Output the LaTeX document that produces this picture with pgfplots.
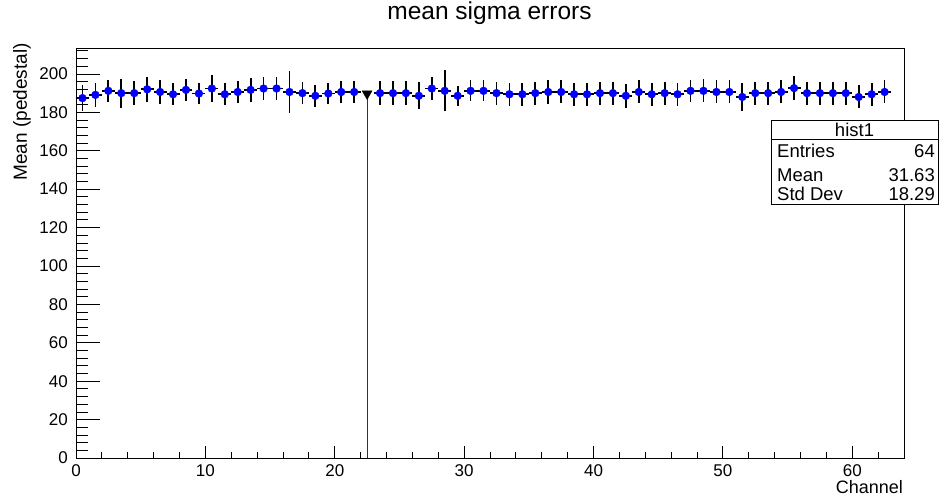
\documentclass[border=0pt]{standalone}
\usepackage{fontspec}
\setmainfont{Liberation Sans}
\usepackage{pgfplots}
\usepackage{pgfplotstable}
\pgfplotsset{compat=1.18}
\pgfplotstableread{
x y ex ey
0.5 187.4 0.5 6.9
1.5 189.1 0.5 6.2
2.5 191.2 0.5 5.8
3.5 190.0 0.5 7.6
4.5 190.0 0.5 6.2
5.5 192.0 0.5 6.6
6.5 190.6 0.5 6.1
7.5 189.4 0.5 5.7
8.5 191.7 0.5 5.7
9.5 189.8 0.5 5.7
10.5 192.4 0.5 6.9
11.5 189.4 0.5 5.7
12.5 190.6 0.5 5.7
13.5 191.7 0.5 6.1
14.5 192.4 0.5 5.9
15.5 192.4 0.5 5.9
16.5 190.6 0.5 10.7
17.5 190.0 0.5 5.7
18.5 188.6 0.5 5.7
19.5 189.8 0.5 5.7
20.5 190.6 0.5 5.7
21.5 190.6 0.5 5.7
23.5 190.0 0.5 6.2
24.5 190.0 0.5 6.2
25.5 190.0 0.5 6.2
26.5 188.6 0.5 7.1
27.5 192.4 0.5 6.1
28.5 191.2 0.5 10.6
29.5 188.6 0.5 5.2
30.5 191.2 0.5 5.4
31.5 191.2 0.5 5.5
32.5 190.0 0.5 6.0
33.5 189.4 0.5 6.0
34.5 189.4 0.5 6.0
35.5 190.0 0.5 6.0
36.5 190.6 0.5 6.2
37.5 190.6 0.5 6.0
38.5 189.4 0.5 6.0
39.5 189.4 0.5 6.0
40.5 190.0 0.5 6.0
41.5 190.0 0.5 6.0
42.5 188.6 0.5 6.3
43.5 190.6 0.5 6.0
44.5 189.4 0.5 6.0
45.5 190.0 0.5 6.0
46.5 189.4 0.5 6.0
47.5 191.2 0.5 5.6
48.5 191.2 0.5 6.0
49.5 190.6 0.5 6.0
50.5 190.6 0.5 6.0
51.5 188.0 0.5 7.4
52.5 190.0 0.5 6.0
53.5 190.0 0.5 6.0
54.5 190.6 0.5 6.0
55.5 192.6 0.5 6.1
56.5 190.0 0.5 6.0
57.5 190.0 0.5 6.0
58.5 190.0 0.5 6.0
59.5 190.0 0.5 6.0
60.5 188.0 0.5 6.0
61.5 189.4 0.5 6.0
62.5 190.6 0.5 6.0
}\datatable
\pgfplotstableread{
x y ey
22.5 189.7 189.7
}\trianglept
\begin{document}
\begin{tikzpicture}[x=1pt,y=1pt]
\useasboundingbox (0,0) rectangle (940,496);
\begin{axis}[
  at={(76pt,38pt)}, anchor=origin,
  scale only axis, width=828pt, height=410pt,
  xmin=0, xmax=64, ymin=0, ymax=213.5,
  axis line style={black, line width=0.8pt},
  tick pos=left, tick align=inside,
  xtick={0,10,...,60}, minor xtick={2,4,...,64},
  ytick=\empty,
  major tick length=12pt, minor tick length=6.5pt,
  tick style={black, line width=0.8pt},
  /pgf/number format/assume math mode=true,
  ticklabel style={font=\fontsize{17}{20}\selectfont},
  xticklabel style={inner sep=0pt, yshift=-6pt, anchor=north},
  xlabel={Channel},
  xlabel style={at={(axis description cs:0.9988,-0.0854)}, anchor=base east, font=\fontsize{18}{21}\selectfont, inner sep=0pt},
  ylabel={Mean (pedestal)},
  ylabel style={at={(axis description cs:-0.0652,1.012)}, anchor=east, font=\fontsize{19}{22}\selectfont, inner sep=0pt},
  title={mean sigma errors},
  title style={at={(axis description cs:0.4994,1.056)}, anchor=base, font=\fontsize{24.5}{28}\selectfont, inner sep=0pt},
]
\addplot[only marks, mark=*, mark size=3.9pt, mark options={fill=blue, draw=blue},
  error bars/.cd, x dir=both, x explicit, y dir=both, y explicit, error mark=none,
  error bar style={black, line width=1.7pt}]
  table[x=x, y=y, x error=ex, y error=ey] {\datatable};
\addplot[only marks, mark=triangle*, mark size=5.8pt, mark options={fill=black, draw=black, rotate=180},
  error bars/.cd, y dir=minus, y explicit, error mark=none,
  error bar style={black!80, line width=0.8pt}]
  table[x=x, y=y, y error=ey] {\trianglept};
\end{axis}
\begin{axis}[
  at={(76pt,38pt)}, anchor=origin,
  scale only axis, width=828pt, height=410pt,
  xmin=0, xmax=64, ymin=0, ymax=213.5,
  axis line style={black, line width=0.8pt},
  tick pos=left, tick align=inside,
  xtick=\empty,
  ytick={0,20,...,200}, minor ytick={4,8,...,212},
  major tick length=24pt, minor tick length=12pt,
  tick style={black, line width=0.8pt},
  /pgf/number format/assume math mode=true,
  ticklabel style={font=\fontsize{17}{20}\selectfont},
  yticklabel style={inner sep=0pt, xshift=-8pt, anchor=east},
]
\end{axis}
\draw[black, line width=0.8pt, fill=white] (771,292) rectangle (938,376);
\draw[black, line width=0.8pt] (771,357) -- (938,357);
\begin{scope}[every node/.style={font=\fontsize{18.5}{22}\selectfont, inner sep=0pt}]
\node[anchor=base] at (854.5,359.5) {hist1};
\node[anchor=base west] at (777,338) {Entries};
\node[anchor=base east] at (935,338) {64};
\node[anchor=base west] at (777,314.5) {Mean};
\node[anchor=base east] at (935,314.5) {31.63};
\node[anchor=base west] at (777,295.5) {Std Dev};
\node[anchor=base east] at (935,295.5) {18.29};
\end{scope}
\end{tikzpicture}
\end{document}
